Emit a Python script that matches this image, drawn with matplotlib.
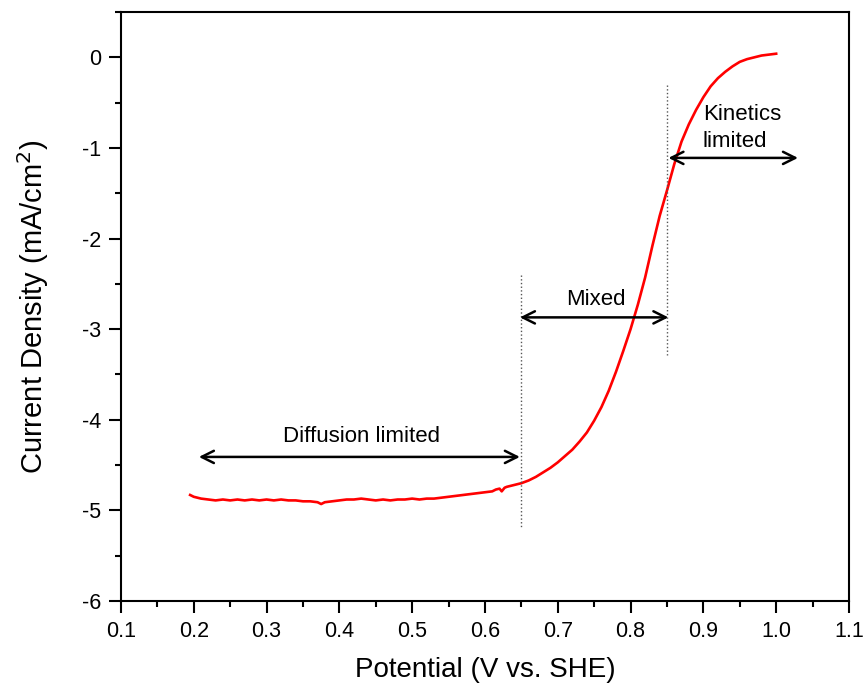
import matplotlib
matplotlib.use("Agg")
import matplotlib.pyplot as plt
from matplotlib.ticker import MultipleLocator, FormatStrFormatter

plt.rcParams['font.family'] = ['Liberation Sans', 'DejaVu Sans']
plt.rcParams['axes.unicode_minus'] = False

# Linear sweep voltammogram (ORR polarization curve)
potential = [0.195, 0.200, 0.205, 0.21, 0.22, 0.23, 0.24, 0.25, 0.26, 0.27,
             0.28, 0.29, 0.30, 0.31, 0.32, 0.33, 0.34, 0.35, 0.36, 0.37,
             0.375, 0.38, 0.39, 0.40, 0.41, 0.42, 0.43, 0.44, 0.45, 0.46,
             0.47, 0.48, 0.49, 0.50, 0.51, 0.52, 0.53, 0.54, 0.55, 0.56,
             0.57, 0.58, 0.59, 0.60, 0.61, 0.615, 0.62, 0.623, 0.627, 0.63,
             0.64, 0.65, 0.66, 0.67, 0.68, 0.69, 0.70, 0.71, 0.72, 0.73,
             0.74, 0.75, 0.76, 0.77, 0.78, 0.79, 0.80, 0.81, 0.82, 0.83,
             0.84, 0.85, 0.86, 0.87, 0.88, 0.89, 0.90, 0.91, 0.92, 0.93,
             0.94, 0.95, 0.96, 0.97, 0.98, 0.99, 1.00]
current = [-4.83, -4.85, -4.86, -4.87, -4.88, -4.89, -4.88, -4.89, -4.88, -4.89,
           -4.88, -4.89, -4.88, -4.89, -4.88, -4.89, -4.89, -4.90, -4.90, -4.91,
           -4.93, -4.91, -4.90, -4.89, -4.88, -4.88, -4.87, -4.88, -4.89, -4.88,
           -4.89, -4.88, -4.88, -4.87, -4.88, -4.87, -4.87, -4.86, -4.85, -4.84,
           -4.83, -4.82, -4.81, -4.80, -4.79, -4.77, -4.76, -4.79, -4.75, -4.74,
           -4.72, -4.70, -4.67, -4.63, -4.58, -4.53, -4.47, -4.40, -4.33, -4.24,
           -4.14, -4.01, -3.86, -3.68, -3.47, -3.24, -3.00, -2.73, -2.43, -2.08,
           -1.75, -1.47, -1.18, -0.93, -0.74, -0.58, -0.44, -0.32, -0.23, -0.16,
           -0.10, -0.05, -0.02, 0.00, 0.02, 0.03, 0.04]

# Region boundaries and labels
boundaries = [0.65, 0.85]
regions = ["Diffusion limited", "Mixed", "Kinetics\nlimited"]

fig = plt.figure(figsize=(8.64, 6.87), dpi=100)
ax = fig.add_axes([0.140, 0.1252, 0.8426, 0.8573])

ax.plot(potential, current, color='red', lw=1.9)

ax.set_xlim(0.1, 1.1)
ax.set_ylim(-6, 0.5)

ax.xaxis.set_major_locator(MultipleLocator(0.1))
ax.xaxis.set_minor_locator(MultipleLocator(0.05))
ax.yaxis.set_major_locator(MultipleLocator(1))
ax.yaxis.set_minor_locator(MultipleLocator(0.5))
ax.xaxis.set_major_formatter(FormatStrFormatter('%.1f'))
ax.yaxis.set_major_formatter(FormatStrFormatter('%d'))

ax.tick_params(which='both', direction='out', top=False, right=False,
               width=1.5, labelsize=15.5)
ax.tick_params(which='major', length=8.5, pad=6)
ax.tick_params(which='minor', length=4.5)
for sp in ax.spines.values():
    sp.set_linewidth(1.5)

ax.set_xlabel("Potential (V vs. SHE)", fontsize=20, labelpad=11)
ax.set_ylabel("Current Density (mA/cm$^2$)", fontsize=21, labelpad=22)

# Dotted region boundaries
ax.plot([boundaries[0], boundaries[0]], [-2.4, -5.18], ls=':', color='#555555', lw=1.0)
ax.plot([boundaries[1], boundaries[1]], [-0.31, -3.29], ls=':', color='#555555', lw=1.0)

arrow_kw = dict(arrowstyle='<->', color='black', lw=1.8, mutation_scale=22,
                shrinkA=0, shrinkB=0)
ax.annotate('', xy=(0.207, -4.41), xytext=(boundaries[0] - 0.002, -4.41), arrowprops=arrow_kw)
ax.annotate('', xy=(boundaries[0] - 0.002, -2.87), xytext=(boundaries[1] + 0.002, -2.87), arrowprops=arrow_kw)
ax.annotate('', xy=(boundaries[1] + 0.002, -1.11), xytext=(1.030, -1.11), arrowprops=arrow_kw)

ax.text(0.431, -4.19, regions[0], ha='center', va='center', fontsize=16)
ax.text(0.752, -2.67, regions[1], ha='center', va='center', fontsize=16)
ax.text(0.899, -0.78, regions[2], ha='left', va='center', fontsize=16,
        multialignment='left', linespacing=1.4)

fig.savefig("out.png", dpi=100)
